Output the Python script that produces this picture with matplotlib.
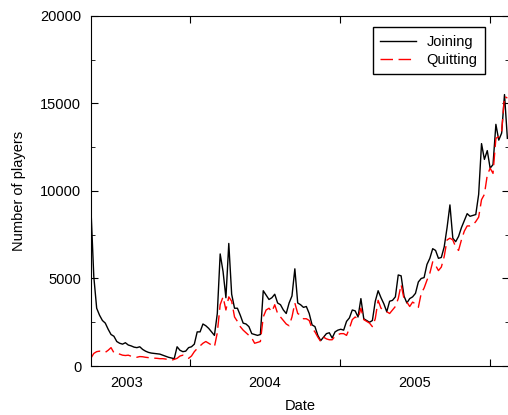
import numpy as np
import pandas as pd
import matplotlib
matplotlib.use("Agg")
import matplotlib.pyplot as plt
import matplotlib.dates as mdates
from matplotlib.ticker import MultipleLocator, FixedLocator, NullFormatter

plt.rcParams["font.family"] = ["Liberation Sans", "DejaVu Sans"]

# weekly counts, first week starting 2003-05-05
start_date = "2003-05-05"
joining = [
    9000, 5100, 3300, 2900, 2600, 2450, 2100, 1800, 1700, 1400,
    1300, 1250, 1330, 1200, 1150, 1080, 1050, 1100, 950, 850,
    780, 740, 720, 700, 680, 620, 560, 500, 460, 420,
    1100, 900, 820, 850, 1050, 1100, 1250, 1950, 1950, 2400,
    2300, 2150, 1950, 1750, 3000, 6400, 5400, 3900, 7000, 4100,
    3300, 3300, 2900, 2450, 2400, 2250, 1850, 1800, 1750, 1800,
    4300, 4050, 3800, 3900, 4100, 3600, 3500, 3200, 3000, 3600,
    4000, 5550, 3600, 3500, 3350, 3400, 3000, 2350, 2250, 1750,
    1450, 1650, 1850, 1900, 1600, 1950, 2050, 2100, 2050, 2550,
    2750, 3200, 3150, 2800, 3850, 2700, 2600, 2500, 2600, 3700,
    4300, 3900, 3550, 3100, 3700, 3750, 3950, 5200, 5150, 4000,
    3600, 3850, 3950, 4150, 4800, 5000, 5050, 5800, 6150, 6700,
    6600, 6150, 6200, 6800, 7900, 9200, 7300, 7100, 7400, 7900,
    8300, 8700, 8550, 8600, 8650, 9800, 12700, 11800, 12300, 11300,
    11500, 13800, 12900, 13300, 15500, 13000,
]
quitting = [
    450, 720, 820, 850, 800, 780, 900, 1050, 760, 720,
    680, 620, 600, 620, 560, 520, 500, 540, 530, 500,
    480, 460, 450, 440, 420, 420, 400, 350, 330, 380,
    440, 570, 620, 530, 440, 570, 820, 1000, 1150, 1300,
    1400, 1300, 1200, 1100, 1900, 3500, 3950, 3200, 3950, 3700,
    2800, 2550, 2250, 2050, 1900, 1750, 1600, 1300, 1350, 1400,
    2800, 3200, 3300, 3100, 3500, 3000, 2800, 2600, 2400, 2300,
    2800, 3600, 3000, 2900, 2700, 2700, 2600, 2150, 1950, 1650,
    1400, 1650, 1550, 1500, 1500, 1700, 1800, 1850, 1850, 1750,
    2150, 2650, 2800, 2700, 3300, 2650, 2550, 2450, 2250, 2700,
    3750, 3300, 3200, 3100, 3000, 3200, 3400, 3850, 4650, 3850,
    3650, 3400, 3650, 3550, 3350, 4150, 4450, 4900, 5300, 5950,
    5750, 5450, 5650, 6250, 7200, 7300, 7200, 6800, 6600, 7200,
    7700, 8000, 8000, 8050, 8250, 8500, 9500, 9800, 10900, 11300,
    11000, 13000, 13100, 13400, 15400, 15300,
]
year_labels = ["2003", "2004", "2005"]
year_label_dates = ["2003-08-01", "2004-07-01", "2005-07-02"]
year_ticks = ["2004-01-01", "2005-01-01", "2006-01-01"]

dates = pd.date_range(start_date, periods=len(joining), freq="7D")

fig = plt.figure(figsize=(5.08, 4.15), dpi=100)
ax = fig.add_axes([0.179, 0.118, 0.823, 0.844])

ax.plot(dates, joining, color="black", lw=1.0, label="Joining")
ax.plot(dates, quitting, color="red", lw=1.0, dashes=(9, 4), label="Quitting")

ax.set_xlim(pd.Timestamp("2003-05-05"), pd.Timestamp("2006-02-17"))
ax.set_ylim(0, 20000)

ax.yaxis.set_major_locator(MultipleLocator(5000))
ax.yaxis.set_minor_locator(MultipleLocator(2500))

ax.xaxis.set_major_locator(FixedLocator(mdates.date2num(pd.to_datetime(year_ticks))))
ax.xaxis.set_major_formatter(NullFormatter())
ax.xaxis.set_minor_locator(FixedLocator(mdates.date2num(pd.to_datetime(year_label_dates))))
ax.xaxis.set_minor_formatter(plt.FixedFormatter(year_labels))

ax.tick_params(axis="both", which="both", direction="in", top=True, right=True, labelsize=10.5)
ax.tick_params(axis="y", which="major", length=5, pad=7)
ax.tick_params(axis="y", which="minor", length=3)
ax.tick_params(axis="x", which="major", length=5)
ax.tick_params(axis="x", which="minor", length=0, pad=7)

ax.set_xlabel("Date", fontsize=10.5, labelpad=7)
ax.set_ylabel("Number of players", fontsize=10.5, labelpad=10)

leg = ax.legend(loc="upper right", fontsize=10.5, fancybox=False, edgecolor="black",
                framealpha=1, handlelength=2.5, handletextpad=0.7,
                borderaxespad=0.8, borderpad=0.5, labelspacing=0.3,
                bbox_to_anchor=(0.97, 1.0))
leg.get_frame().set_linewidth(1.0)

fig.savefig("out.png", dpi=100)
